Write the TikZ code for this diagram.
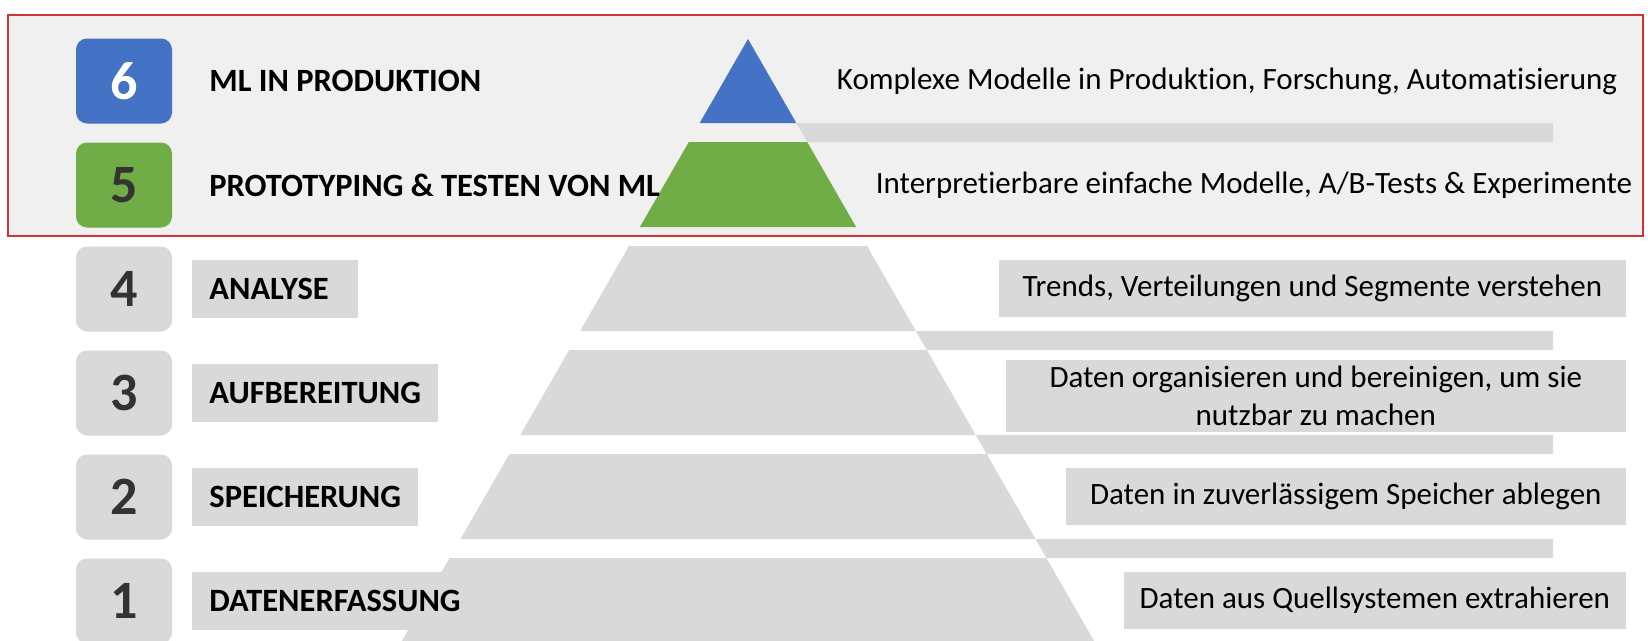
\documentclass[tikz,border=0pt]{standalone}
\usepackage{fontspec}
\setmainfont{Carlito}[Ligatures=NoCommon]
\usepackage{xcolor}
\usepackage{tikz}
\usetikzlibrary{positioning}
\definecolor{lvlblue}{HTML}{4472C4}
\definecolor{lvlgreen}{HTML}{70AD47}
\definecolor{lvlgray}{HTML}{D9D9D9}
\definecolor{framegray}{HTML}{F0F0F0}
\definecolor{framered}{HTML}{D03434}
\definecolor{digitgray}{HTML}{333333}
\tikzstyle{numbox} = [rectangle, rounded corners=11pt, minimum width=96pt, minimum height=85pt, inner sep=0pt, fill=lvlgray, text=digitgray, font=\fontsize{54}{54}\selectfont\bfseries]
\tikzstyle{stage} = [rectangle, inner xsep=17pt, inner ysep=0pt, minimum height=58pt, text=black, font=\fontsize{32.5}{32.5}\selectfont\bfseries]
\tikzstyle{stagebox} = [stage, fill=lvlgray]
\tikzstyle{desc} = [rectangle, inner sep=0pt, text=black, font=\fontsize{31}{38}\selectfont, align=center]
\tikzstyle{descbox} = [desc, anchor=east, inner xsep=10pt, minimum height=57pt, fill=lvlgray]
\tikzstyle{layer} = [fill=lvlgray]

\begin{document}
\begin{tikzpicture}[x=1pt, y=-1pt, node distance=104pt]
\clip (0,0) rectangle (1648,640);
\fill[white] (0,0) rectangle (1648,640);

\draw[framered, line width=1.6pt, fill=framegray] (8,15) rectangle (1643,236);

\fill[lvlblue] (748,39) -- (796.3,123) -- (699.7,123) -- cycle;
\fill[lvlgreen] (688.8,142) -- (807.2,142) -- (856.1,227) -- (639.9,227) -- cycle;
\fill[layer] (629.0,246) -- (867.0,246) -- (915.9,331) -- (580.1,331) -- cycle;
\fill[layer] (569.2,350) -- (926.8,350) -- (975.7,435) -- (520.3,435) -- cycle;
\fill[layer] (509.4,454) -- (986.6,454) -- (1035.5,539) -- (460.5,539) -- cycle;
\fill[layer] (449.6,558) -- (1046.4,558) -- (1095.3,643) -- (400.7,643) -- cycle;

\fill[layer] (796.3,123) -- (1553,123) -- (1553,142) -- (807.2,142) -- cycle;
\fill[layer] (915.9,331) -- (1553,331) -- (1553,350) -- (926.8,350) -- cycle;
\fill[layer] (975.7,435) -- (1553,435) -- (1553,454) -- (986.6,454) -- cycle;
\fill[layer] (1035.5,539) -- (1553,539) -- (1553,558) -- (1046.4,558) -- cycle;

\node (n6) [numbox, fill=lvlblue, text=white] at (124,81) {6};
\node (n5) [numbox, fill=lvlgreen, below of=n6] {5};
\node (n4) [numbox, below of=n5] {4};
\node (n3) [numbox, below of=n4] {3};
\node (n2) [numbox, below of=n3] {2};
\node (n1) [numbox, below of=n2] {1};

\node (s6) [stage, right=20pt of n6] {ML IN PRODUKTION};
\node (s5) [stage, right=20pt of n5] {PROTOTYPING \& TESTEN VON ML};
\node (s4) [stagebox, right=20pt of n4, minimum width=166pt, text width=132pt] {ANALYSE};
\node (s3) [stagebox, right=20pt of n3] {AUFBEREITUNG};
\node (s2) [stagebox, right=20pt of n2] {SPEICHERUNG};
\node (s1) [stagebox, right=20pt of n1] {DATENERFASSUNG};

\node (d6) [desc] at (1227,81) {Komplexe Modelle in Produktion, Forschung, Automatisierung};
\node (d5) [desc] at (1254,185) {Interpretierbare einfache Modelle, A/B-Tests \& Experimente};
\node (d4) [descbox, minimum width=627pt] at (1626,288) {Trends, Verteilungen und Segmente verstehen};
\node (d3) [descbox, minimum width=620pt, minimum height=72pt] at (1626,396) {Daten organisieren und bereinigen, um sie\\nutzbar zu machen};
\node (d2) [descbox, minimum width=560pt] at (1626,496) {Daten in zuverlässigem Speicher ablegen};
\node (d1) [descbox, minimum width=502pt] at (1626,600) {Daten aus Quellsystemen extrahieren};

\end{tikzpicture}
\end{document}
